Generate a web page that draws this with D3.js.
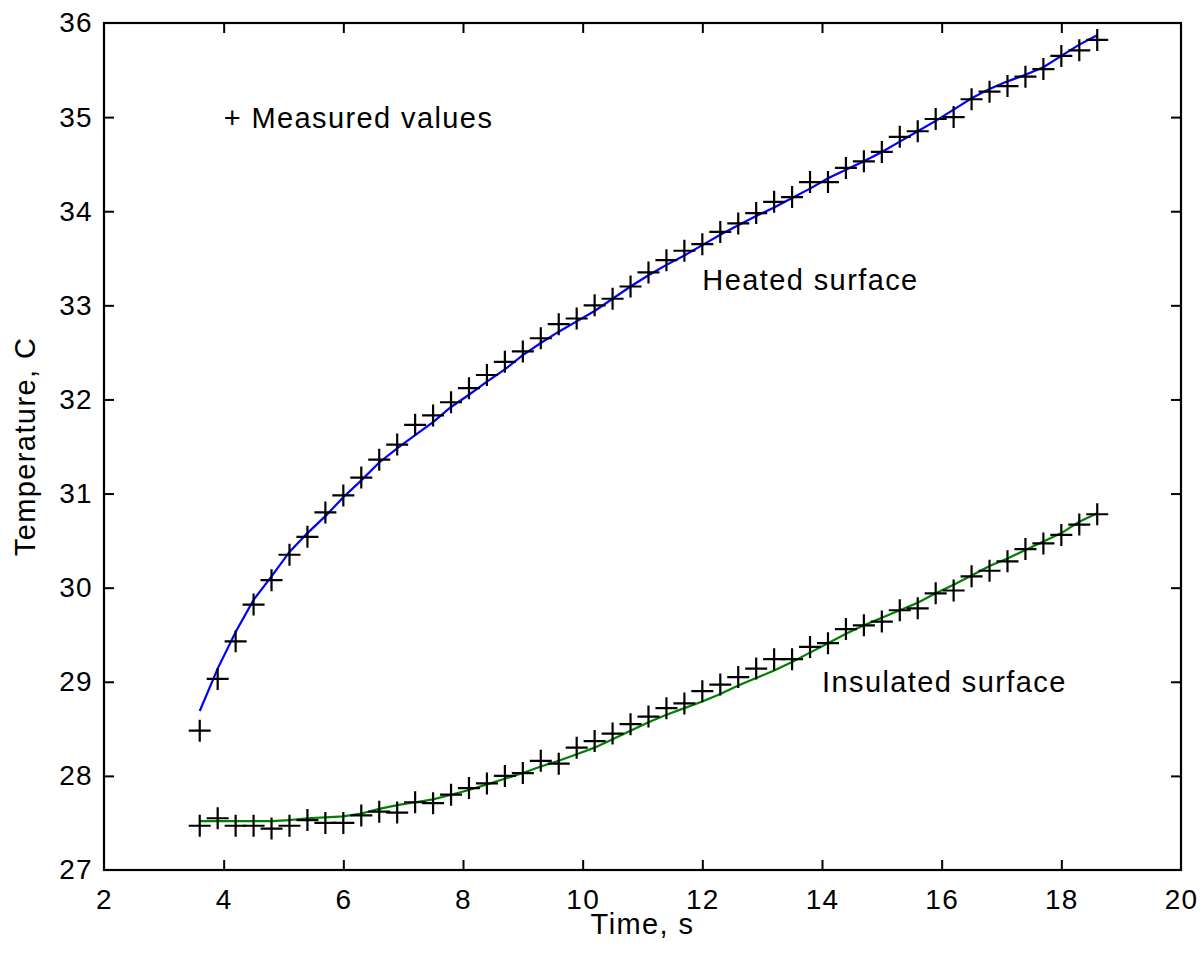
<!DOCTYPE html>
<html>
<head>
<meta charset="utf-8">
<script src="https://cdn.jsdelivr.net/npm/d3@7"></script>
<style>
  body { margin: 0; background: #fff; }
  svg { display: block; font-family: 'Liberation Sans', Arial, Helvetica, sans-serif; }
</style>
</head>
<body>
<div id="chart"></div>
<script>
// sample times, s
const time = [3.6, 3.9, 4.2, 4.5, 4.8, 5.1, 5.4, 5.7, 6.0, 6.3, 6.6, 6.9, 7.2, 7.5, 7.8, 8.1, 8.4, 8.7,
  9.0, 9.3, 9.6, 9.9, 10.2, 10.5, 10.8, 11.1, 11.4, 11.7, 12.0, 12.3, 12.6, 12.9, 13.2, 13.5, 13.8,
  14.1, 14.4, 14.7, 15.0, 15.3, 15.6, 15.9, 16.2, 16.5, 16.8, 17.1, 17.4, 17.7, 18.0, 18.3, 18.6];

const heatedMeasured = [28.48, 29.03, 29.43, 29.82, 30.08, 30.35, 30.54, 30.80, 30.98, 31.17, 31.36, 31.52,
  31.73, 31.83, 31.97, 32.12, 32.26, 32.40, 32.51, 32.65, 32.80, 32.86, 33.00, 33.07, 33.20, 33.35, 33.48,
  33.58, 33.65, 33.78, 33.87, 33.98, 34.10, 34.15, 34.31, 34.31, 34.46, 34.53, 34.63, 34.79, 34.85, 34.98,
  35.00, 35.19, 35.27, 35.33, 35.43, 35.51, 35.65, 35.71, 35.82];

const heatedFit = [28.69, 29.14, 29.53, 29.87, 30.12, 30.38, 30.58, 30.76, 30.96, 31.14, 31.33, 31.48,
  31.62, 31.76, 31.92, 32.05, 32.19, 32.32, 32.47, 32.60, 32.72, 32.83, 32.94, 33.07, 33.20, 33.32, 33.43,
  33.53, 33.64, 33.75, 33.85, 33.95, 34.04, 34.14, 34.24, 34.35, 34.44, 34.53, 34.63, 34.74, 34.85, 34.96,
  35.08, 35.20, 35.30, 35.38, 35.45, 35.53, 35.65, 35.77, 35.87];

const insulatedMeasured = [27.47, 27.55, 27.47, 27.47, 27.44, 27.47, 27.53, 27.50, 27.50, 27.58, 27.62, 27.61,
  27.72, 27.71, 27.80, 27.87, 27.92, 28.00, 28.03, 28.16, 28.13, 28.30, 28.37, 28.45, 28.55, 28.63, 28.72,
  28.77, 28.90, 28.97, 29.05, 29.14, 29.24, 29.24, 29.37, 29.41, 29.56, 29.60, 29.64, 29.76, 29.78, 29.94,
  29.97, 30.12, 30.18, 30.28, 30.41, 30.47, 30.56, 30.67, 30.78];

const insulatedFit = [27.52, 27.52, 27.52, 27.52, 27.52, 27.53, 27.55, 27.56, 27.57, 27.60, 27.65, 27.69,
  27.72, 27.75, 27.80, 27.85, 27.91, 27.97, 28.03, 28.10, 28.16, 28.23, 28.30, 28.39, 28.48, 28.57, 28.65,
  28.72, 28.79, 28.87, 28.96, 29.04, 29.12, 29.21, 29.31, 29.41, 29.51, 29.60, 29.68, 29.76, 29.84, 29.94,
  30.03, 30.13, 30.23, 30.31, 30.40, 30.49, 30.58, 30.70, 30.79];

const xTicks = [2, 4, 6, 8, 10, 12, 14, 16, 18, 20];
const yTicks = [27, 28, 29, 30, 31, 32, 33, 34, 35, 36];

const labels = [
  { t: 4, temp: 35, text: '+ Measured values' },
  { t: 12, temp: 33.27, text: 'Heated surface' },
  { t: 14, temp: 29.0, text: 'Insulated surface' }
];

(function () {
  const W = 1203, H = 960;
  const margin = { top: 23, right: 22, bottom: 90, left: 104 };
  const width = W - margin.left - margin.right;
  const height = H - margin.top - margin.bottom;

  const svg = d3.select('#chart').append('svg')
    .attr('width', W)
    .attr('height', H);

  const g = svg.append('g')
    .attr('transform', `translate(${margin.left},${margin.top})`);

  const x = d3.scaleLinear().domain([2, 20]).range([0, width]);
  const y = d3.scaleLinear().domain([27, 36]).range([height, 0]);

  const tickLen = 10;
  const fontSize = 28;
  const spacing = '1.3px';

  // axes: ticks point inward on all four sides (matlab style)
  const axisStyle = sel => {
    sel.select('.domain').remove();
    sel.selectAll('.tick line').attr('stroke', '#000').attr('stroke-width', 2);
    sel.selectAll('.tick text')
      .attr('fill', '#000')
      .attr('font-size', fontSize)
      .attr('letter-spacing', spacing)
      .attr('font-family', null);
  };

  g.append('g')
    .attr('transform', `translate(0,${height})`)
    .call(d3.axisBottom(x).tickValues(xTicks).tickSizeInner(-tickLen).tickSizeOuter(0).tickPadding(19))
    .call(axisStyle);

  g.append('g')
    .call(d3.axisTop(x).tickValues(xTicks).tickSizeInner(-tickLen).tickSizeOuter(0).tickFormat(''))
    .call(axisStyle);

  g.append('g')
    .call(d3.axisLeft(y).tickValues(yTicks).tickSizeInner(-tickLen).tickSizeOuter(0).tickPadding(11))
    .call(axisStyle);

  g.append('g')
    .attr('transform', `translate(${width},0)`)
    .call(d3.axisRight(y).tickValues(yTicks).tickSizeInner(-tickLen).tickSizeOuter(0).tickFormat(''))
    .call(axisStyle);

  // drop the ticks that sit on the box corners
  g.selectAll('.tick').filter(d => d === 2 || d === 20 || d === 27 || d === 36).select('line').remove();

  g.append('rect')
    .attr('width', width)
    .attr('height', height)
    .attr('fill', 'none')
    .attr('stroke', '#000')
    .attr('stroke-width', 2.2);

  // fitted curves
  const line = d3.line()
    .x(d => x(d[0]))
    .y(d => y(d[1]));

  g.append('path')
    .datum(time.map((t, i) => [t, heatedFit[i]]))
    .attr('d', line)
    .attr('fill', 'none')
    .attr('stroke', '#0000ff')
    .attr('stroke-width', 2.2);

  g.append('path')
    .datum(time.map((t, i) => [t, insulatedFit[i]]))
    .attr('d', line)
    .attr('fill', 'none')
    .attr('stroke', '#008000')
    .attr('stroke-width', 2.2);

  // measured values as plus markers
  const half = 11;
  const plus = d => {
    const px = x(d[0]), py = y(d[1]);
    return `M${px - half},${py}H${px + half}M${px},${py - half}V${py + half}`;
  };
  const measured = time.map((t, i) => [t, heatedMeasured[i]])
    .concat(time.map((t, i) => [t, insulatedMeasured[i]]));

  g.append('g').selectAll('path')
    .data(measured)
    .join('path')
    .attr('d', plus)
    .attr('stroke', '#000')
    .attr('stroke-width', 2.2)
    .attr('fill', 'none');

  // text annotations
  g.append('g').selectAll('text')
    .data(labels)
    .join('text')
    .attr('x', d => x(d.t))
    .attr('y', d => y(d.temp))
    .attr('dy', '0.36em')
    .attr('font-size', 29)
    .attr('letter-spacing', '1.4px')
    .attr('fill', '#000')
    .text(d => d.text);

  // axis titles
  svg.append('text')
    .attr('x', margin.left + width / 2)
    .attr('y', 934)
    .attr('text-anchor', 'middle')
    .attr('font-size', 29)
    .attr('letter-spacing', '1.4px')
    .text('Time, s');

  svg.append('text')
    .attr('transform', `translate(35,${margin.top + height / 2}) rotate(-90)`)
    .attr('text-anchor', 'middle')
    .attr('font-size', 29)
    .attr('letter-spacing', '1.4px')
    .text('Temperature, C');
})();
</script>
</body>
</html>
